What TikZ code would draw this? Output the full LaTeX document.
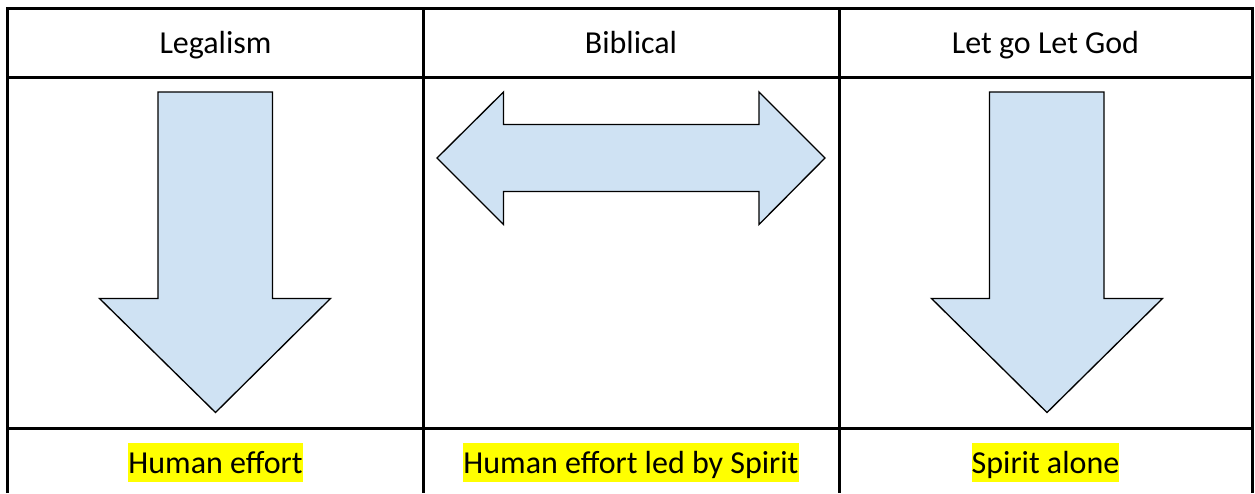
\documentclass[tikz,border=0pt]{standalone}
\usepackage{fontspec}
\setmainfont{Carlito}
\usepackage{xcolor}
\definecolor{arrowblue}{RGB}{207,226,243}
\definecolor{hiyellow}{RGB}{255,255,0}
\tikzset{
  rule/.style={line width=2.25pt},
  blockarrow/.style={draw=black, fill=arrowblue, line width=1pt, line join=miter},
  colhead/.style={font=\fontsize{24}{29}\selectfont, anchor=base, inner sep=0pt},
  hilite/.style={font=\fontsize{24}{29}\selectfont, anchor=base, fill=hiyellow,
    inner xsep=0pt, inner ysep=0pt, text height=22.5pt, text depth=7pt}
}
\begin{document}
\begin{tikzpicture}[x=0.75pt,y=-0.75pt]
\useasboundingbox (0,0) rectangle (1255,493);
% table lines
\draw[rule] (7.5,493) -- (7.5,8.5) -- (1252,8.5) -- (1252,493);
\draw[rule] (7.5,77.5) -- (1252,77.5);
\draw[rule] (7.5,428.5) -- (1252,428.5);
\draw[rule] (423.5,8.5) -- (423.5,493);
\draw[rule] (839,8.5) -- (839,493);

% header row
\node[colhead] (legal) at (215.5,53) {Legalism};
\node[colhead] (bibl) at (631,53) {Biblical};
\node[colhead] (letgo) at (1045.5,53) {Let go Let God};

% arrows
\draw[blockarrow] (158,92) -- (272.5,92) -- (272.5,298.5) -- (330.5,298.5) -- (215.5,412.5)
  -- (99.5,298.5) -- (158,298.5) -- cycle;
\draw[blockarrow] (437,158) -- (503.5,92) -- (503.5,124.5) -- (759,124.5) -- (759,92)
  -- (825,158) -- (759,224.5) -- (759,191.5) -- (503.5,191.5) -- (503.5,224.5) -- cycle;
\draw[blockarrow] (989.5,92) -- (1104,92) -- (1104,298.5) -- (1162.5,298.5) -- (1047,412.5)
  -- (931.5,298.5) -- (989.5,298.5) -- cycle;

% bottom row
\node[hilite] (effort) at (215.5,473) {Human effort};
\node[hilite] (ledby) at (631,473) {Human effort led by Spirit};
\node[hilite] (alone) at (1045.5,473) {Spirit alone};
\end{tikzpicture}
\end{document}
